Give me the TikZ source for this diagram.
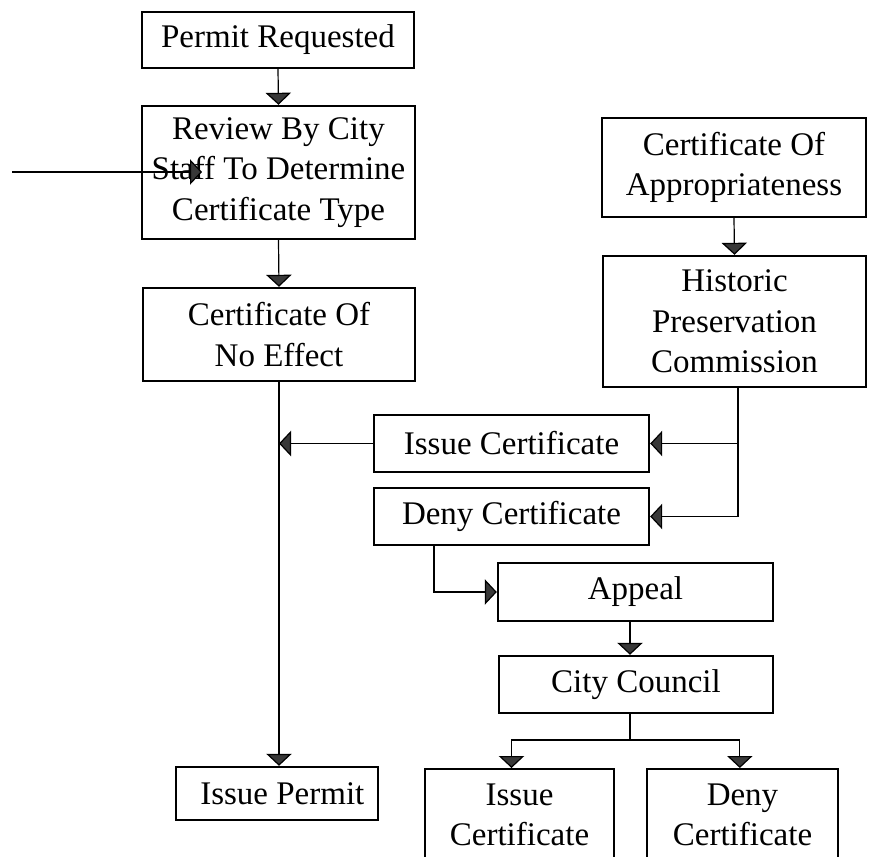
\documentclass[tikz,border=0pt]{standalone}
\usepackage{fontspec}
\setmainfont{Liberation Serif}
\usetikzlibrary{arrows.meta}
\begin{document}
\begin{tikzpicture}[x=0.75pt,y=-0.75pt,
  box/.style={draw=black,line width=1.8pt,align=center,inner sep=0pt,
    font=\fontsize{24.75}{30.4}\selectfont},
  sz/.style 2 args={minimum width=#1*0.75pt,minimum height=#2*0.75pt},
  conn/.style={draw=black,line width=0.9pt,
    -{Triangle[length=9pt,width=19pt,fill=black!78]}},
  plain/.style={draw=black,line width=0.9pt}]
\useasboundingbox (0,0) rectangle (869,857);
\clip (0,0) rectangle (869,857);
\fill[white] (0,0) rectangle (869,857);

% left column
\node[box,sz={272}{56}] (permit) at (278,40) {Permit Requested};
\node[box,sz={273}{133}] (review) at (278.5,172.5) {Review By City\\Staff To Determine\\Certificate Type};
\node[box,sz={272}{93}] (noeffect) at (279,334.5) {Certificate Of\\No Effect};
\node[box,sz={202}{53}] (ipermit) at (277,793.5) {\hspace*{8pt}Issue Permit};

% right column
\node[box,sz={264}{99}] (coa) at (734,167.5) {Certificate Of\\Appropriateness};
\node[box,sz={263}{131}] (hpc) at (734.5,321.5) {Historic\\Preservation\\Commission};
\node[box,sz={275}{57}] (icert) at (511.5,443.5) {Issue Certificate};
\node[box,sz={275}{57}] (dcert) at (511.5,516.5) {Deny Certificate};
\node[box,sz={275}{58}] (appeal) at (635.5,592) {Appeal};
\node[box,sz={274}{57}] (council) at (636,684.5) {City Council};
\node[box,sz={189}{140},anchor=north] (icert2) at (519.5,768) {};
\node[box,sz={191}{140},anchor=north] (dcert2) at (742.5,768) {};
\node[box,draw=none] (icert2t) at (519.5,815) {Issue\\Certificate};
\node[box,draw=none] (dcert2t) at (742.5,815) {Deny\\Certificate};

% connectors
\draw[conn] (permit.south) -- (review.north);
\draw[conn] (review.south) -- (noeffect.north);
\coordinate (inA) at (12,172);
\coordinate (inB) at (202,172);
\draw[conn] (inA) -- (inB);
\draw[conn] (noeffect.south) -- (noeffect.south |- ipermit.north);
\draw[conn] (icert.west) -- (noeffect.south |- icert.west);

\draw[conn] (coa.south) -- (hpc.north);
\coordinate (hb) at (738,387);
\draw[plain] (hb) -- (hb |- dcert.east);
\draw[conn] (hb |- icert.east) -- (icert.east);
\draw[conn] (hb |- dcert.east) -- (dcert.east);

\coordinate (db) at (434,545);
\draw[conn] (db) -- (db |- appeal.west) -- (appeal.west);
\coordinate (ab) at (630,621);
\draw[conn] (ab) -- (ab |- council.north);
\coordinate (cb) at (630,713);
\coordinate (sp) at (630,740);
\draw[plain] (cb) -- (sp);
\draw[conn] (sp) -| ([xshift=-6pt]icert2.north);
\draw[conn] (sp) -| ([xshift=-2pt]dcert2.north);
\end{tikzpicture}
\end{document}
